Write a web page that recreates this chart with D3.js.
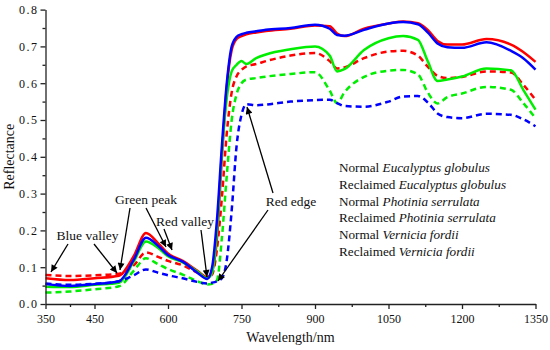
<!DOCTYPE html>
<html>
<head>
<meta charset="utf-8">
<script src="https://cdn.jsdelivr.net/npm/d3@7"></script>
<style>
  body { margin: 0; background: #fff; }
  svg text { font-family: "Liberation Serif", "Times New Roman", serif; fill: #111; }
</style>
</head>
<body>
<svg id="chart"></svg>
<script>
// wavelength grid (nm)
var wavelengths = [350, 400, 450, 500, 530, 555, 580, 600, 630, 660, 680, 690, 700, 710, 720, 730, 740, 750, 760, 780,
  800, 850, 900, 930, 945, 960, 1000, 1050, 1080, 1110, 1130, 1150, 1170, 1200, 1250, 1300, 1325, 1350];

// reflectance per sample
var normalEucalyptus = [0.070, 0.065, 0.070, 0.077, 0.130, 0.193, 0.165, 0.137, 0.117, 0.090, 0.073, 0.090, 0.180, 0.400, 0.590, 0.690, 0.720, 0.728, 0.733, 0.738,
  0.742, 0.748, 0.757, 0.755, 0.735, 0.728, 0.748, 0.762, 0.768, 0.763, 0.745, 0.715, 0.705, 0.705, 0.720, 0.705, 0.685, 0.658];
var reclaimedEucalyptus = [0.079, 0.076, 0.078, 0.082, 0.105, 0.140, 0.128, 0.117, 0.105, 0.085, 0.072, 0.080, 0.150, 0.290, 0.465, 0.575, 0.619, 0.636, 0.646, 0.652,
  0.660, 0.675, 0.682, 0.660, 0.640, 0.643, 0.668, 0.686, 0.688, 0.675, 0.645, 0.620, 0.614, 0.617, 0.632, 0.629, 0.596, 0.555];
var normalPhotinia = [0.047, 0.046, 0.052, 0.058, 0.115, 0.170, 0.152, 0.130, 0.113, 0.088, 0.070, 0.085, 0.200, 0.410, 0.560, 0.632, 0.650, 0.660, 0.652, 0.668,
  0.678, 0.692, 0.700, 0.675, 0.632, 0.638, 0.690, 0.722, 0.728, 0.718, 0.660, 0.606, 0.610, 0.618, 0.640, 0.635, 0.582, 0.528];
var reclaimedPhotinia = [0.031, 0.034, 0.040, 0.048, 0.090, 0.124, 0.108, 0.095, 0.080, 0.062, 0.053, 0.055, 0.065, 0.180, 0.350, 0.500, 0.570, 0.600, 0.610, 0.614,
  0.618, 0.625, 0.630, 0.580, 0.546, 0.575, 0.617, 0.634, 0.636, 0.624, 0.575, 0.545, 0.562, 0.572, 0.590, 0.582, 0.546, 0.505];
var normalVernicia = [0.054, 0.049, 0.054, 0.062, 0.120, 0.180, 0.158, 0.133, 0.115, 0.085, 0.068, 0.100, 0.230, 0.430, 0.600, 0.700, 0.726, 0.733, 0.737, 0.741,
  0.745, 0.750, 0.759, 0.748, 0.731, 0.729, 0.745, 0.762, 0.766, 0.760, 0.738, 0.708, 0.698, 0.696, 0.711, 0.688, 0.668, 0.637];
var reclaimedVernicia = [0.056, 0.052, 0.055, 0.062, 0.078, 0.094, 0.085, 0.078, 0.070, 0.060, 0.056, 0.058, 0.062, 0.070, 0.120, 0.255, 0.430, 0.514, 0.543, 0.540,
  0.542, 0.550, 0.554, 0.555, 0.546, 0.538, 0.536, 0.550, 0.564, 0.565, 0.548, 0.518, 0.508, 0.505, 0.517, 0.514, 0.502, 0.483];

var xTicks = [350, 450, 600, 750, 900, 1050, 1200, 1350];
var yTicks = [0, 0.1, 0.2, 0.3, 0.4, 0.5, 0.6, 0.7, 0.8];

var legendLabels = [
  ['Normal ', 'Eucalyptus globulus'],
  ['Reclaimed ', 'Eucalyptus globulus'],
  ['Normal ', 'Photinia serrulata'],
  ['Reclaimed ', 'Photinia serrulata'],
  ['Normal ', 'Vernicia fordii'],
  ['Reclaimed ', 'Vernicia fordii']
];

var width = 550, height = 350;
var margin = { left: 45.5, right: 14.5, top: 9.6, bottom: 46 };

var svg = d3.select('#chart').attr('width', width).attr('height', height);

var x = d3.scaleLinear().domain([350, 1350]).range([margin.left, width - margin.right]);
var y = d3.scaleLinear().domain([0, 0.8]).range([height - margin.bottom, margin.top]);

// arrow marker
svg.append('defs').append('marker')
  .attr('id', 'arrow')
  .attr('viewBox', '0 0 10 10')
  .attr('refX', 10).attr('refY', 5)
  .attr('markerWidth', 9).attr('markerHeight', 7)
  .attr('markerUnits', 'userSpaceOnUse')
  .attr('orient', 'auto')
  .append('path').attr('d', 'M0,0 L10,5 L0,10 Z').attr('fill', '#000');

// series, drawn in order
var series = [
  { values: normalEucalyptus, color: '#ff0000', dash: null },
  { values: reclaimedEucalyptus, color: '#ff0000', dash: '6,4' },
  { values: normalPhotinia, color: '#00ee00', dash: null },
  { values: reclaimedPhotinia, color: '#00ee00', dash: '6,4' },
  { values: reclaimedVernicia, color: '#0000ff', dash: '6,4' },
  { values: normalVernicia, color: '#0000ff', dash: null }
];

var line = d3.line()
  .x(function(d, i) { return x(wavelengths[i]); })
  .y(function(d) { return y(d); })
  .curve(d3.curveMonotoneX);

svg.append('g').selectAll('path')
  .data(series)
  .enter().append('path')
  .attr('d', function(d) { return line(d.values); })
  .attr('fill', 'none')
  .attr('stroke', function(d) { return d.color; })
  .attr('stroke-width', 2.5)
  .attr('stroke-dasharray', function(d) { return d.dash; });

// axes
var xAxis = svg.append('g')
  .attr('transform', 'translate(0,' + y(0) + ')')
  .call(d3.axisBottom(x).tickValues(xTicks).tickSize(5).tickSizeOuter(0).tickFormat(d3.format('d')));
svg.append('g')
  .attr('transform', 'translate(0,' + y(0) + ')')
  .call(d3.axisBottom(x).tickValues([400, 525, 675, 825, 975, 1125, 1275]).tickSize(3).tickFormat(''))
  .select('.domain').remove();

var yAxis = svg.append('g')
  .attr('transform', 'translate(' + x(350) + ',0)')
  .call(d3.axisLeft(y).tickValues(yTicks).tickSize(5).tickSizeOuter(0).tickFormat(d3.format('.1f')));
svg.append('g')
  .attr('transform', 'translate(' + x(350) + ',0)')
  .call(d3.axisLeft(y).tickValues([0.05, 0.15, 0.25, 0.35, 0.45, 0.55, 0.65, 0.75]).tickSize(3).tickFormat(''))
  .select('.domain').remove();

svg.selectAll('.domain, .tick line').attr('stroke', '#222').attr('stroke-width', 1.3);
xAxis.selectAll('text').attr('font-size', 12).attr('dy', '0.9em');
yAxis.selectAll('text').attr('font-size', 12).attr('letter-spacing', 1.5).attr('x', -7);

// axis titles
svg.append('text')
  .attr('x', (x(350) + x(1350)) / 2).attr('y', 342)
  .attr('text-anchor', 'middle').attr('font-size', 14)
  .text('Wavelength/nm');
svg.append('text')
  .attr('transform', 'translate(14,' + (y(0) + y(0.8)) / 2 + ') rotate(-90)')
  .attr('text-anchor', 'middle').attr('font-size', 14)
  .text('Reflectance');

// annotations
var annotations = [
  { text: 'Blue valley', tx: 87.5, ty: 240, arrows: [[68, 244, 51, 272], [94, 244, 117, 273]] },
  { text: 'Green peak', tx: 146, ty: 204, arrows: [[130, 208, 120, 270], [146, 208, 166, 247]] },
  { text: 'Red valley', tx: 185, ty: 226, arrows: [[164, 229, 172, 250], [201, 230, 207, 277]] },
  { text: 'Red edge', tx: 291, ty: 206, arrows: [[273, 193, 247, 107], [268, 210, 218, 281]] }
];

var ann = svg.append('g');
annotations.forEach(function(a) {
  ann.append('text').attr('x', a.tx).attr('y', a.ty)
    .attr('text-anchor', 'middle').attr('font-size', 13.5).text(a.text);
  a.arrows.forEach(function(p) {
    ann.append('line')
      .attr('x1', p[0]).attr('y1', p[1]).attr('x2', p[2]).attr('y2', p[3])
      .attr('stroke', '#000').attr('stroke-width', 1.3)
      .attr('marker-end', 'url(#arrow)');
  });
});

// legend (text only)
var legend = svg.append('g');
legendLabels.forEach(function(l, i) {
  var t = legend.append('text')
    .attr('x', 339).attr('y', 172 + i * 16.8)
    .attr('font-size', 13.2);
  t.append('tspan').text(l[0]);
  t.append('tspan').attr('font-style', 'italic').text(l[1]);
});
</script>
</body>
</html>
